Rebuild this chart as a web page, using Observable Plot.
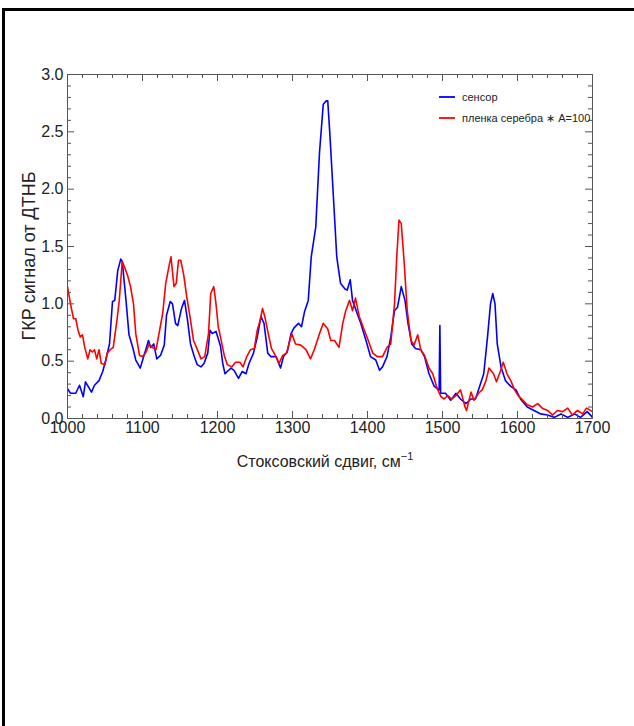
<!DOCTYPE html>
<html><head><meta charset="utf-8">
<script src="https://cdn.jsdelivr.net/npm/d3@7"></script>
<script src="https://cdn.jsdelivr.net/npm/@observablehq/plot@0.6"></script>
<style>
body{margin:0;background:#fff;}
#border{position:absolute;left:2px;top:8px;width:700px;height:800px;border-top:3px solid #000;border-left:3px solid #000;}
#chart{position:absolute;left:0;top:0;}
</style></head><body>
<div id="border"></div><div id="chart"></div>
<script>
// Stokes shift (cm^-1) and SERS signal, sensor
const sensorX = [1000,1004,1011,1016,1021,1024,1032,1036,1042,1047,1051,1056,1060,1063,1067,1071,1073,1078,1082,1087,1091,1097,1102,1108,1111,1115,1119,1124,1129,1132,1137,1140,1144,1147,1152,1156,1160,1164,1169,1173,1178,1182,1187,1190,1193,1198,1204,1207,1210,1213,1218,1222,1228,1233,1238,1242,1248,1253,1258,1262,1267,1271,1278,1284,1288,1293,1298,1302,1308,1312,1316,1321,1325,1331,1336,1341,1345,1347,1350,1355,1359,1364,1370,1373,1377,1380,1386,1391,1398,1404,1411,1416,1420,1426,1431,1436,1440,1445,1450,1454,1459,1464,1471,1476,1482,1489,1495.5,1496.5,1497.5,1504,1511,1518,1524,1531,1538,1544,1550,1555,1560,1564,1567,1570,1573,1578,1584,1591,1598,1604,1613,1622,1631,1640,1649,1658,1667,1676,1684,1693,1700];
const sensorY = [0.26,0.22,0.22,0.29,0.19,0.32,0.23,0.29,0.33,0.41,0.51,0.65,1.02,1.03,1.29,1.39,1.37,1.03,0.73,0.62,0.51,0.44,0.55,0.68,0.62,0.65,0.52,0.55,0.64,0.90,1.02,1.00,0.83,0.81,0.96,1.03,0.86,0.65,0.54,0.47,0.45,0.48,0.57,0.77,0.74,0.76,0.63,0.48,0.39,0.41,0.44,0.42,0.35,0.41,0.39,0.48,0.57,0.71,0.89,0.83,0.57,0.54,0.54,0.44,0.54,0.58,0.74,0.79,0.83,0.80,0.93,1.03,1.41,1.67,2.32,2.74,2.77,2.77,2.46,1.88,1.41,1.18,1.13,1.12,1.21,1.03,0.92,0.83,0.68,0.54,0.51,0.42,0.45,0.54,0.71,0.94,0.97,1.15,1.03,0.83,0.65,0.61,0.60,0.54,0.39,0.28,0.25,0.81,0.22,0.22,0.16,0.22,0.17,0.13,0.17,0.17,0.29,0.39,0.71,1.00,1.09,1.00,0.65,0.45,0.33,0.28,0.25,0.17,0.10,0.07,0.04,0.03,0.01,0.04,0.01,0.04,0.01,0.06,0.01];
// silver film x 100
const filmX = [1000,1004,1008,1011,1014,1017,1020,1023,1027,1030,1033,1036,1039,1042,1045,1050,1053,1057,1061,1066,1069,1073,1076,1080,1084,1088,1091,1096,1100,1104,1109,1113,1118,1122,1127,1131,1136,1138,1142,1145,1148,1151,1155,1159,1164,1168,1172,1178,1183,1188,1191,1195,1198,1201,1204,1209,1213,1219,1224,1230,1234,1239,1244,1249,1253,1257,1260,1263,1268,1272,1278,1282,1287,1292,1299,1304,1311,1318,1324,1329,1336,1341,1347,1351,1356,1362,1367,1371,1376,1380,1384,1389,1394,1401,1407,1413,1420,1426,1431,1436,1439,1442,1445,1449,1453,1458,1462,1467,1471,1476,1482,1487,1493,1498,1502,1507,1512,1518,1524,1530,1532,1538,1542,1548,1553,1558,1562,1568,1572,1577,1581,1586,1591,1596,1601,1607,1613,1620,1627,1633,1640,1647,1653,1660,1667,1673,1680,1687,1692,1700];
const filmY = [1.15,1.00,0.87,0.87,0.77,0.71,0.73,0.62,0.52,0.60,0.58,0.60,0.52,0.60,0.48,0.47,0.57,0.60,0.62,0.86,1.03,1.37,1.32,1.25,1.15,1.00,0.74,0.55,0.54,0.57,0.65,0.62,0.60,0.74,0.92,1.18,1.35,1.41,1.15,1.18,1.38,1.38,1.25,1.06,0.86,0.68,0.62,0.52,0.54,0.74,1.09,1.15,1.00,0.80,0.71,0.55,0.47,0.45,0.49,0.49,0.45,0.54,0.60,0.61,0.77,0.86,0.96,0.89,0.73,0.61,0.54,0.48,0.55,0.57,0.74,0.65,0.64,0.60,0.52,0.60,0.74,0.83,0.78,0.68,0.68,0.62,0.83,0.94,1.03,0.94,1.05,0.89,0.80,0.68,0.57,0.54,0.54,0.62,0.65,1.00,1.41,1.73,1.70,1.35,0.94,0.68,0.64,0.73,0.60,0.55,0.44,0.39,0.26,0.19,0.17,0.20,0.17,0.20,0.25,0.10,0.07,0.23,0.16,0.22,0.25,0.33,0.44,0.39,0.32,0.41,0.49,0.39,0.33,0.25,0.20,0.16,0.12,0.10,0.13,0.09,0.07,0.03,0.07,0.06,0.09,0.03,0.07,0.04,0.09,0.06];
const seriesNames = ["сенсор", "пленка серебра ∗ A=100"];
const seriesColors = ["#0000ff", "#ff0000"];
const xTickLabels = [1000,1100,1200,1300,1400,1500,1600,1700];
const yTickLabels = [0.0,0.5,1.0,1.5,2.0,2.5,3.0];
const xLabel = "Стоксовский сдвиг, см";
const yLabel = "ГКР сигнал от ДТНБ";

const data = [
  ...sensorX.map((x,i)=>({x, y: sensorY[i], s: seriesNames[0]})),
  ...filmX.map((x,i)=>({x, y: filmY[i], s: seriesNames[1]}))
];
const W=634, H=480, mL=67, mR=42, mT=74, mB=62;
const iw=W-mL-mR, ih=H-mT-mB;
const xMinor = d3.range(1000,1701,20).filter(v=>v%100!==0);
const yMinor = d3.range(0,31).filter(i=>i%5!==0).map(i=>i/10);
const frameC = "#555";
const tick = (vals, len, side) => side==="x"
  ? [Plot.ruleX(vals,{x:d=>d, insetTop: ih-len, stroke: frameC}), Plot.ruleX(vals,{x:d=>d, insetBottom: ih-len, stroke: frameC})]
  : [Plot.ruleY(vals,{y:d=>d, insetRight: iw-len, stroke: frameC}), Plot.ruleY(vals,{y:d=>d, insetLeft: iw-len, stroke: frameC})];

const chart = Plot.plot({
  width: W, height: H, marginLeft: mL, marginRight: mR, marginTop: mT, marginBottom: mB,
  style: {fontFamily: "'Liberation Sans', Arial, sans-serif", fontSize: "16px", color: "#222", background: "transparent"},
  x: {domain: [1000,1700]},
  y: {domain: [0,3]},
  color: {domain: seriesNames, range: seriesColors},
  marks: [
    Plot.line(data, {x:"x", y:"y", z:"s", stroke:"s", strokeWidth:1.6, clip:true}),
    ...tick(xTickLabels, 7, "x"), ...tick(xMinor, 4, "x"),
    ...tick(yTickLabels, 7, "y"), ...tick(yMinor, 4, "y"),
    Plot.frame({stroke: frameC}),
    Plot.axisX(xTickLabels, {tickSize:0, tickPadding:3, tickFormat: d=>String(d), label:null}),
    Plot.axisY(yTickLabels, {tickSize:0, tickPadding:4, tickFormat: d=>d.toFixed(1), label:null})
  ]
});
document.getElementById("chart").appendChild(chart);
const svg = d3.select(chart);
// axis titles
const xt = svg.append("text").attr("x", 325).attr("y", 467).attr("text-anchor","middle")
  .attr("fill","#222").style("font-size","16px");
xt.append("tspan").text(xLabel);
xt.append("tspan").attr("dy",-7).style("font-size","11px").text("−1");
svg.append("text").attr("transform","translate(35,256) rotate(-90)").attr("text-anchor","middle")
  .attr("fill","#222").style("font-size","18px").text(yLabel);
// legend
seriesNames.forEach((n,i)=>{
  const yy = 97 + i*21;
  svg.append("line").attr("x1",439).attr("x2",455).attr("y1",yy).attr("y2",yy)
    .attr("stroke",seriesColors[i]).attr("stroke-width",1.8);
  svg.append("text").attr("x",462).attr("y",yy+4).attr("text-anchor","start")
    .attr("fill","#222").style("font-size","11px").text(n);
});
</script></body></html>
